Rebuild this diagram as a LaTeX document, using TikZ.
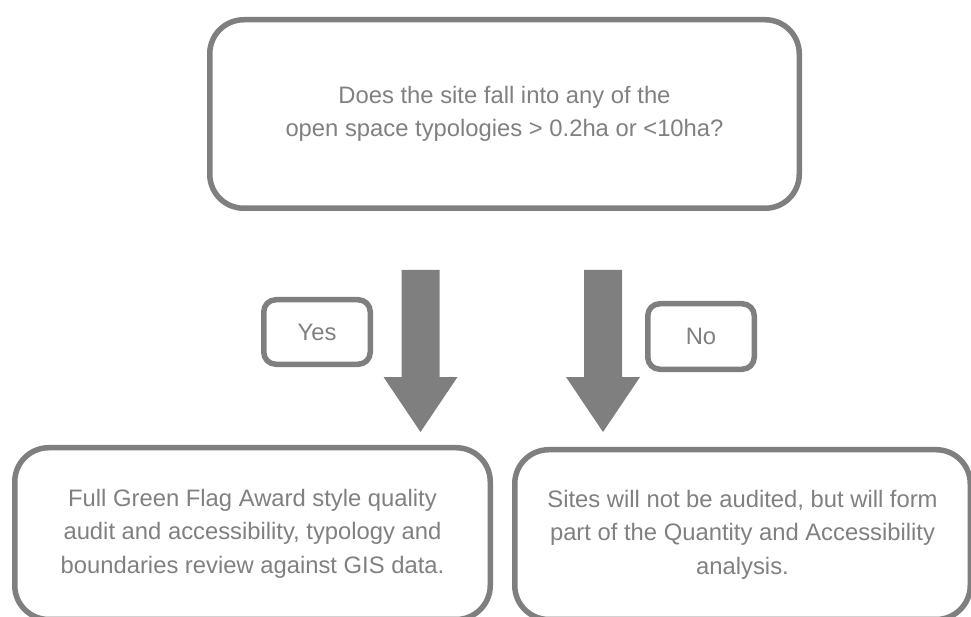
\documentclass[tikz,border=0pt]{standalone}
\usepackage{fontspec}
\setmainfont{Liberation Sans}
\usetikzlibrary{calc}
\definecolor{bordergray}{HTML}{7F7F7F}
\definecolor{textgray}{HTML}{808080}
\begin{document}
\begin{tikzpicture}[x=1pt,y=-1pt,
  box/.style={draw=bordergray, line width=5.5pt, rounded corners=34pt, align=center,
    text=textgray, font=\fontsize{23.8}{33.5}\selectfont, inner sep=0pt},
  tag/.style={box, rounded corners=12pt},
  blockarrow/.style={fill=bordergray, draw=none}]
\useasboundingbox (0,0) rectangle (971,617);
\clip (0,0) rectangle (971,617);
\node[box, minimum width=589.5pt, minimum height=188.5pt] (q) at (504.5,114)
  {Does the site fall into any of the\\open space typologies > 0.2ha or <10ha?};
\node[tag, minimum width=106.5pt, minimum height=64.5pt] (yes) at (317,332) {Yes};
\node[tag, minimum width=106.5pt, minimum height=65.5pt] (no) at (701,336.5) {No};
\node[box, minimum width=475.5pt, minimum height=171.75pt] (full) at (252.5,533.6)
  {Full Green Flag Award style quality\\audit and accessibility, typology and\\boundaries review against GIS data.};
\node[box, minimum width=455.5pt, minimum height=169.75pt] (notaud) at (742.5,534.6)
  {Sites will not be audited, but will form\\part of the Quantity and Accessibility\\analysis.};
% block arrows
\coordinate (ya) at (420.5,270);
\coordinate (na) at (603,270);
\fill[blockarrow] ($(ya)+(-19,0)$) -- ($(ya)+(19,0)$) -- ($(ya)+(19,107)$) -- ($(ya)+(37,107)$)
  -- ($(ya)+(0,162)$) -- ($(ya)+(-37,107)$) -- ($(ya)+(-19,107)$) -- cycle;
\fill[blockarrow] ($(na)+(-19,0)$) -- ($(na)+(19,0)$) -- ($(na)+(19,107)$) -- ($(na)+(37,107)$)
  -- ($(na)+(0,162)$) -- ($(na)+(-37,107)$) -- ($(na)+(-19,107)$) -- cycle;
\end{tikzpicture}
\end{document}
